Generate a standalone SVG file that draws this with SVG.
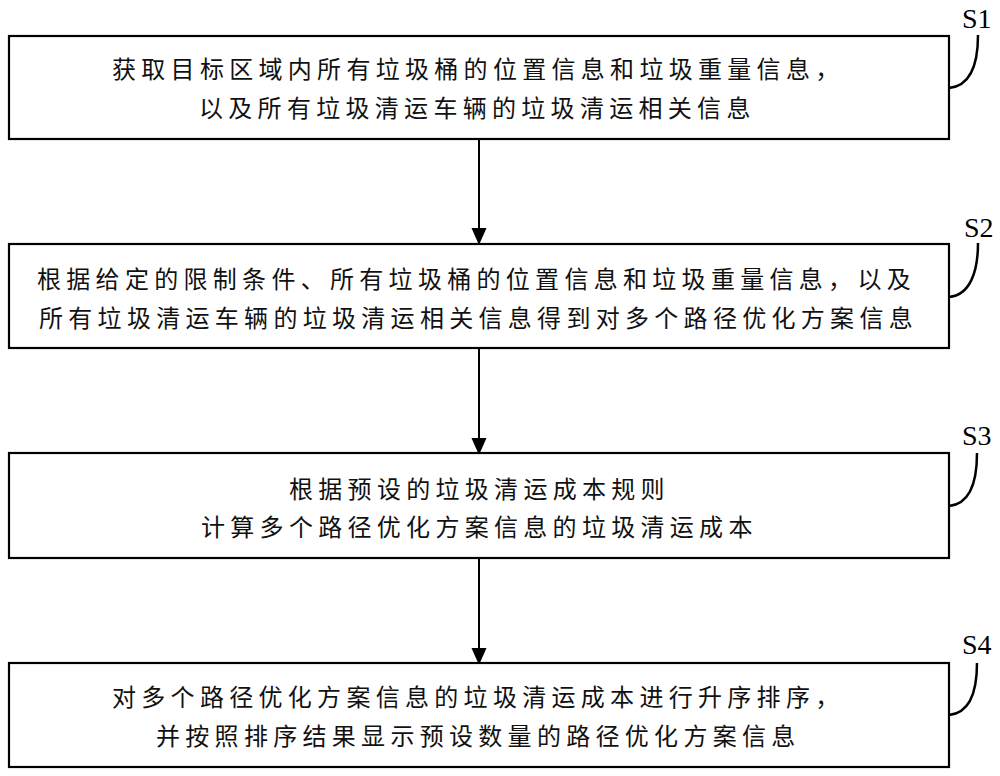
<svg xmlns="http://www.w3.org/2000/svg" width="1000" height="776" viewBox="0 0 1000 776">
<defs>
<marker id="ah" viewBox="0 0 15 17" refX="15" refY="7.5" markerWidth="15" markerHeight="17" markerUnits="userSpaceOnUse" orient="auto">
<path d="M0,0 L17,7.5 L0,15 Z" fill="#000"/>
</marker>
<style>
.box{fill:#fff;stroke:#000;stroke-width:2.2}
.t{font-family:"Noto Sans CJK SC","Noto Sans CJK JP",sans-serif;font-size:24px;letter-spacing:5.3px;fill:#111}
.lbl{font-family:"Liberation Serif","Times New Roman",serif;font-size:28px;fill:#000}
.lead{fill:none;stroke:#000;stroke-width:2.5}
.conn{fill:none;stroke:#000;stroke-width:2;marker-end:url(#ah)}
</style>
</defs>
<rect width="1000" height="776" fill="#fff"/>
<g id="connectors">
<path class="conn" d="M479,139 L479,243"/>
<path class="conn" d="M479,348 L479,453"/>
<path class="conn" d="M479,558 L479,663"/>
</g>
<g id="S1">
<rect class="box" x="9" y="36" width="940" height="103"/>
<text class="t" x="112" y="78">获取目标区域内所有垃圾桶的位置信息和垃圾重量信息，</text>
<text class="t" x="199" y="117">以及所有垃圾清运车辆的垃圾清运相关信息</text>
<path class="lead" d="M949,88 C970,86 978,65 978,35"/>
<text class="lbl" x="962" y="28">S1</text>
</g>
<g id="S2">
<rect class="box" x="9" y="244" width="940" height="104"/>
<text class="t" x="37" y="288">根据给定的限制条件、所有垃圾桶的位置信息和垃圾重量信息，以及</text>
<text class="t" x="39" y="327">所有垃圾清运车辆的垃圾清运相关信息得到对多个路径优化方案信息</text>
<path class="lead" d="M949,297 C970,295 978,272 978,243"/>
<text class="lbl" x="964" y="237">S2</text>
</g>
<g id="S3">
<rect class="box" x="9" y="453" width="940" height="105"/>
<text class="t" x="289" y="498">根据预设的垃圾清运成本规则</text>
<text class="t" x="201" y="536">计算多个路径优化方案信息的垃圾清运成本</text>
<path class="lead" d="M949,506 C970,504 977,482 977,453"/>
<text class="lbl" x="962" y="445">S3</text>
</g>
<g id="S4">
<rect class="box" x="9" y="663" width="940" height="104"/>
<text class="t" x="112" y="706">对多个路径优化方案信息的垃圾清运成本进行升序排序，</text>
<text class="t" x="156" y="745">并按照排序结果显示预设数量的路径优化方案信息</text>
<path class="lead" d="M949,715 C970,713 977,692 977,663"/>
<text class="lbl" x="962" y="654">S4</text>
</g>
</svg>
